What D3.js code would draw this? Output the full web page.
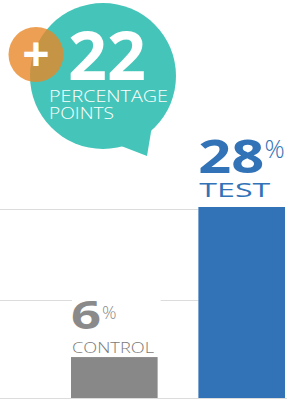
<!DOCTYPE html>
<html>
<head>
<meta charset="utf-8">
<script src="https://cdn.jsdelivr.net/npm/d3@7"></script>
<style>
  body { margin: 0; background: #fff; }
  svg { display: block; font-family: "Open Sans", sans-serif; }
</style>
</head>
<body>
<svg id="chart" width="301" height="406"></svg>
<script>
// data
var categories = ["CONTROL", "TEST"];
var values = [6, 28];
var gridTicks = [0, 14.3, 27.7];
var bubbleNumber = "22";
var bubbleLines = ["PERCENTAGE", "POINTS"];

// styles
var barColors = ["#888888", "#3273b8"];
var textColors = ["#8a8a8a", "#3273b8"];
var catColors = ["#7a7a7a", "#3273b8"];
var labelSizes = [{ num: 39, numW: 30, pct: 18, pctX: 31, pctOff: 38, cat: 15, catW: 82, numOff: 28, catOff: 4 },
                  { num: 47, numW: 66, pct: 25, pctX: 66, pctOff: 49, cat: 20, catW: 71, numOff: 34, catOff: 10 }];

var svg = d3.select("#chart");

var x = d3.scaleBand()
    .domain(categories)
    .range([71, 285])
    .paddingInner(0.32)
    .paddingOuter(0);

var y = d3.scaleLinear()
    .domain([0, 28])
    .range([398, 207]);

//gridlines
svg.selectAll(".grid")
    .data(gridTicks)
    .enter()
    .append("line")
    .attr("class", "grid")
    .attr("x1", 0)
    .attr("x2", function (d) { return d === 0 ? x("TEST") + x.bandwidth() + 2 : x("TEST"); })
    .attr("y1", function (d) { return Math.round(y(d)) + 0.5; })
    .attr("y2", function (d) { return Math.round(y(d)) + 0.5; })
    .attr("stroke", "#dcdcdc")
    .attr("stroke-width", 1);

//white patch behind the control label
svg.append("rect")
    .attr("x", x("CONTROL") + 1)
    .attr("y", y(values[0]) - 60)
    .attr("width", x.bandwidth() + 2)
    .attr("height", 58)
    .attr("fill", "#fff");

//bars
svg.selectAll(".bar")
    .data(values)
    .enter()
    .append("rect")
    .attr("class", "bar")
    .attr("x", function (d, i) { return x(categories[i]); })
    .attr("y", function (d) { return y(d); })
    .attr("width", x.bandwidth())
    .attr("height", function (d) { return y(0) - y(d); })
    .attr("fill", function (d, i) { return barColors[i]; });

//value labels
svg.selectAll(".vlabel")
    .data(values)
    .enter()
    .append("text")
    .attr("class", "vlabel")
    .attr("x", function (d, i) { return x(categories[i]); })
    .attr("y", function (d, i) { return y(d) - labelSizes[i].numOff; })
    .attr("fill", function (d, i) { return textColors[i]; })
    .attr("font-weight", 700)
    .attr("font-size", function (d, i) { return labelSizes[i].num; })
    .attr("textLength", function (d, i) { return labelSizes[i].numW; })
    .attr("lengthAdjust", "spacingAndGlyphs")
    .text(function (d) { return d; });

svg.selectAll(".pct")
    .data(values)
    .enter()
    .append("text")
    .attr("class", "pct")
    .attr("x", function (d, i) { return x(categories[i]) + labelSizes[i].pctX; })
    .attr("y", function (d, i) { return y(d) - labelSizes[i].pctOff; })
    .attr("fill", function (d, i) { return textColors[i]; })
    .attr("font-weight", 300)
    .attr("font-size", function (d, i) { return labelSizes[i].pct; })
    .text("%");

//category labels
svg.selectAll(".clabel")
    .data(values)
    .enter()
    .append("text")
    .attr("class", "clabel")
    .attr("x", function (d, i) { return x(categories[i]) + 1; })
    .attr("y", function (d, i) { return y(d) - labelSizes[i].catOff; })
    .attr("font-size", function (d, i) { return labelSizes[i].cat; })
    .attr("font-weight", function (d, i) { return i === 0 ? 300 : 400; })
    .attr("textLength", function (d, i) { return labelSizes[i].catW; })
    .attr("lengthAdjust", "spacingAndGlyphs")
    .attr("fill", function (d, i) { return catColors[i]; })
    .text(function (d, i) { return categories[i]; });

//speech bubble
var bubble = svg.append("g").attr("class", "bubble");
bubble.append("path")
    .attr("d", "M116,144 L147,156 L152,126 Z")
    .attr("fill", "#45c5b9");
bubble.append("circle")
    .attr("cx", 103)
    .attr("cy", 76)
    .attr("r", 73)
    .attr("fill", "#45c5b9");

bubble.append("circle")
    .attr("cx", 36)
    .attr("cy", 54.5)
    .attr("r", 27.5)
    .attr("fill", "rgb(232,135,37)")
    .attr("fill-opacity", 0.79);

bubble.append("text")
    .attr("x", 36)
    .attr("y", 71)
    .attr("text-anchor", "middle")
    .attr("font-size", 48)
    .attr("font-weight", 700)
    .attr("fill", "#fff")
    .text("+");

bubble.append("text")
    .attr("x", 68)
    .attr("y", 80)
    .attr("font-size", 66)
    .attr("font-weight", 700)
    .attr("textLength", 78)
    .attr("lengthAdjust", "spacingAndGlyphs")
    .attr("fill", "#fff")
    .text(bubbleNumber);

bubble.selectAll(".bline")
    .data(bubbleLines)
    .enter()
    .append("text")
    .attr("class", "bline")
    .attr("x", 49)
    .attr("y", function (d, i) { return 102 + i * 17; })
    .attr("font-size", 17)
    .attr("font-weight", 300)
    .attr("textLength", function (d, i) { return i === 0 ? 119 : 65; })
    .attr("lengthAdjust", "spacingAndGlyphs")
    .attr("fill", "#fff")
    .text(function (d) { return d; });
</script>
</body>
</html>
